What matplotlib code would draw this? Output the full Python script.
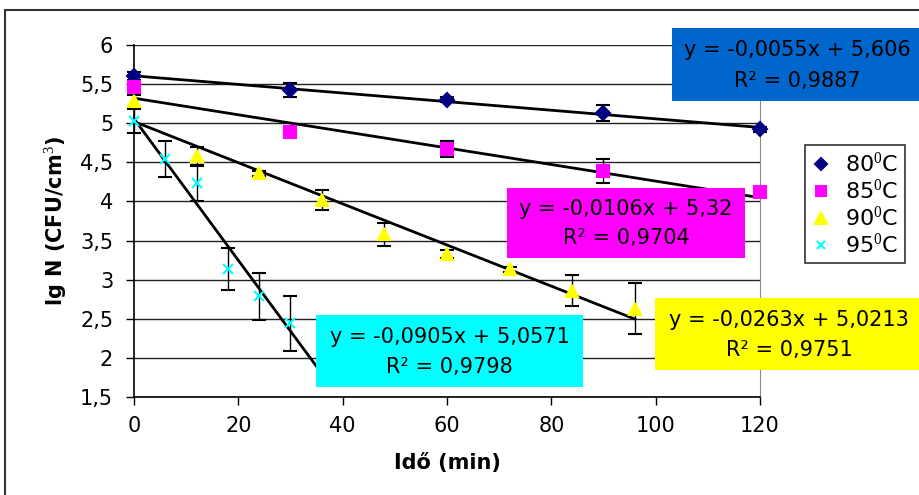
import matplotlib
matplotlib.use("Agg")
import matplotlib.pyplot as plt
from matplotlib.patches import Rectangle
from matplotlib.lines import Line2D

plt.rcParams['font.family'] = ['DejaVu Sans']
plt.rcParams['mathtext.fontset'] = 'custom'
plt.rcParams['mathtext.rm'] = 'Liberation Serif'

# 80 C
x80 = [0, 30, 60, 90, 120]
y80 = [5.60, 5.43, 5.30, 5.13, 4.92]
e80 = [0.05, 0.09, 0.03, 0.10, 0.03]
# 85 C
x85 = [0, 30, 60, 90, 120]
y85 = [5.46, 4.89, 4.67, 4.39, 4.12]
e85 = [0.0, 0.07, 0.10, 0.15, 0.0]
# 90 C
x90 = [0, 12, 24, 36, 48, 60, 72, 84, 96]
y90 = [5.28, 4.58, 4.36, 4.02, 3.58, 3.33, 3.13, 2.86, 2.63]
e90 = [0.08, 0.11, 0.03, 0.13, 0.15, 0.05, 0.03, 0.20, 0.33]
# 95 C
x95 = [0, 6, 12, 18, 24, 30]
y95 = [5.03, 4.54, 4.23, 3.14, 2.79, 2.44]
e95 = [0.15, 0.23, 0.22, 0.27, 0.30, 0.35]

# trend lines (slope, intercept, x range)
fits = [(-0.0055, 5.606, 0, 120), (-0.0106, 5.32, 0, 120),
        (-0.0263, 5.0213, 0, 96), (-0.0905, 5.0571, 0, 35)]

fig = plt.figure(figsize=(9.2, 4.95), dpi=100)
ax = fig.add_axes([134/920, 98/495, 626/920, 352/495])

# outer chart border
fig.patches.append(Rectangle((5/920, -0.05), 1.1, (485/495) + 0.05,
                             transform=fig.transFigure, fill=False,
                             edgecolor='#333333', linewidth=1.5))

ax.set_xlim(0, 120)
ax.set_ylim(1.5, 6)
ax.set_yticks([1.5, 2, 2.5, 3, 3.5, 4, 4.5, 5, 5.5, 6])
ax.set_yticklabels(['1,5', '2', '2,5', '3', '3,5', '4', '4,5', '5', '5,5', '6'])
ax.set_xticks([0, 20, 40, 60, 80, 100, 120])
ax.grid(axis='y', color='#222222', linewidth=1)
ax.set_axisbelow(True)
ax.tick_params(labelsize=15, length=6, width=1, color='black')
ax.tick_params(axis='x', pad=8)
ax.tick_params(axis='y', pad=9)
ax.spines['top'].set_visible(False)
ax.spines['right'].set_color('#888888')
ax.spines['left'].set_linewidth(1.2)
ax.spines['bottom'].set_linewidth(1.2)

for sl, ic, x0, x1 in fits:
    ax.plot([x0, x1], [ic + sl * x0, ic + sl * x1], color='black', lw=2, zorder=3)

series = [
    (x80, y80, e80, 'D', 7, '#000080', '80$^{0}$C'),
    (x85, y85, e85, 's', 8, '#FF00FF', '85$^{0}$C'),
    (x90, y90, e90, '^', 9, '#FFFF00', '90$^{0}$C'),
    (x95, y95, e95, 'x', 7, '#00FFFF', '95$^{0}$C'),
]
handles = []
for xs, ys, es, mk, ms, col, lab in series:
    cont = ax.errorbar(xs, ys, yerr=es, marker=mk, ms=ms, mfc=col, mec=col, mew=1.5,
                       ecolor='black', elinewidth=1, capsize=5, capthick=1,
                       ls='none', zorder=4)
    for child in cont.get_children():
        child.set_clip_on(False)
    handles.append(Line2D([], [], ls='none', marker=mk, ms=ms - 1, mfc=col, mec=col,
                          mew=1.5, label=lab))

ax.set_xlabel('Idő (min)', fontsize=15, fontweight='bold', labelpad=12)
ax.set_ylabel('lg N (CFU/cm$^{3}$)', fontsize=15, fontweight='bold', labelpad=8)

# equation boxes (figure pixel coords)
boxes = [
    ("y = -0,0055x + 5,606", "R\u00b2 = 0,9887", '#0066CC', 672, 28, 250, 73),
    ("y = -0,0106x + 5,32", "R\u00b2 = 0,9704", '#FF00FF', 507, 188, 238, 70),
    ("y = -0,0263x + 5,0213", "R\u00b2 = 0,9751", '#FFFF00', 655, 298, 268, 72),
    ("y = -0,0905x + 5,0571", "R\u00b2 = 0,9798", '#00FFFF', 316, 315, 267, 72),
]
for l1, l2, col, bx, by, bw, bh in boxes:
    fig.patches.append(Rectangle((bx/920, 1 - (by + bh)/495), bw/920, bh/495,
                                 transform=fig.transFigure, facecolor=col,
                                 edgecolor='none', zorder=5))
    cx = (bx + bw/2)/920
    fig.text(cx, 1 - (by + bh*0.3)/495, l1, ha='center', va='center', fontsize=15, zorder=6)
    fig.text(cx, 1 - (by + bh*0.72)/495, l2, ha='center', va='center', fontsize=15, zorder=6)

leg = fig.legend(handles=handles, loc='upper left', bbox_to_anchor=(805/920, 1 - 145/495),
                 fontsize=16, frameon=True, fancybox=False, edgecolor='black',
                 handlelength=0.8, handletextpad=0.7, borderpad=0.3,
                 labelspacing=0.1, borderaxespad=0)
leg.get_frame().set_linewidth(1.2)

fig.savefig('out.png', dpi=100)
